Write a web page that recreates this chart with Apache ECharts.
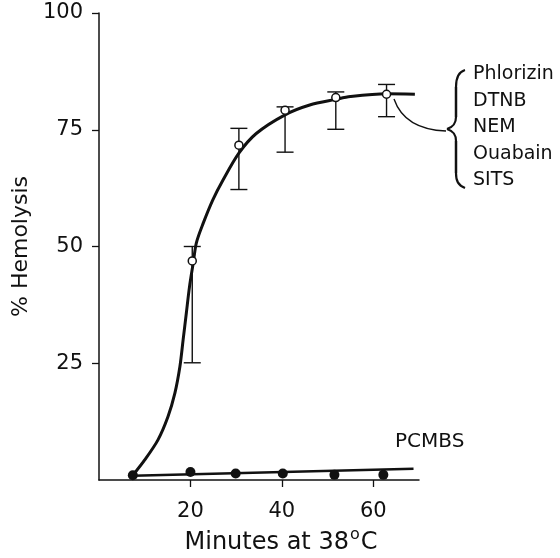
<!DOCTYPE html>
<html>
<head>
<meta charset="utf-8">
<script src="https://cdn.jsdelivr.net/npm/echarts@6/dist/echarts.min.js"></script>
<style>
html,body{margin:0;padding:0;background:#fff;}
#chart{width:560px;height:558px;}
</style>
</head>
<body>
<div id="chart"></div>
<script>
// Fitted curve (inhibitor-treated cells)
const curveX = [7.4, 10.0, 12.9, 15.1, 16.6, 17.7, 18.4, 19.1, 19.8, 20.6, 21.3, 22.8, 24.9, 27.1, 30.6, 34.4, 40.7, 46.1, 51.8, 55.0, 62.9, 69.1];
const curveY = [1.0, 4.3, 8.6, 13.6, 18.6, 24.3, 30.0, 35.7, 41.4, 46.4, 50.8, 55.0, 60.0, 64.2, 70.0, 74.2, 78.2, 80.3, 81.5, 82.1, 82.7, 82.6];
// Open circles with error bars
const openX = [20.4, 30.6, 40.7, 51.8, 62.9];
const openY = [46.9, 71.7, 79.2, 81.9, 82.6];
const errHigh = [50.0, 75.3, 79.9, 83.1, 84.7];
const errLow = [25.1, 62.2, 70.2, 75.1, 77.8];
// PCMBS filled points and line
const pcmbsX = [7.4, 20.0, 29.9, 40.2, 51.5, 62.2];
const pcmbsY = [1.0, 1.7, 1.4, 1.4, 1.1, 1.1];
const pcmbsLineX = [7.4, 68.8];
const pcmbsLineY = [0.9, 2.4];
// Ticks and labels
const xTicks = [20, 40, 60];
const yTicks = [25, 50, 75, 100];
const inhibitorLabels = ['Phlorizin', 'DTNB', 'NEM', 'Ouabain', 'SITS'];
const pcmbsLabel = 'PCMBS';

const FONT = 'DejaVu Sans';
const zip = (a, b) => a.map((v, i) => [v, b[i]]);

const chart = echarts.init(document.getElementById('chart'), null, {renderer: 'canvas'});

const ink = {stroke: '#111', fill: null};
const bz = (x1, y1, cpx1, cpy1, cpx2, cpy2, x2, y2, lw) => ({
  type: 'bezierCurve', z: 10,
  shape: {x1, y1, cpx1, cpy1, cpx2, cpy2, x2, y2},
  style: Object.assign({lineWidth: lw}, ink)
});
const ln = (x1, y1, x2, y2, lw) => ({
  type: 'line', z: 10, shape: {x1, y1, x2, y2}, style: Object.assign({lineWidth: lw}, ink)
});

const option = {
  backgroundColor: '#fff',
  animation: false,
  grid: {left: 99, right: 141, top: 13, bottom: 78, containLabel: false, outerBoundsMode: 'none'},
  xAxis: {
    type: 'value', min: 0, max: 70,
    name: '{m|Minutes at 38}{sup|o}{m|C}',
    nameLocation: 'middle', nameGap: 45,
    nameTextStyle: {
      fontFamily: FONT, fontSize: 24, color: '#111', padding: [0, 0, 0, 44],
      rich: {
        m: {fontFamily: FONT, fontSize: 24, color: '#111', lineHeight: 30},
        sup: {fontFamily: FONT, fontSize: 16, color: '#111', lineHeight: 14, padding: [0, 1, 16, 1]}
      }
    },
    axisLine: {show: true, onZero: false, lineStyle: {color: '#111', width: 1.5}},
    axisTick: {show: true, inside: false, length: 7, customValues: xTicks, lineStyle: {color: '#111', width: 1.3}},
    axisLabel: {show: true, customValues: xTicks, margin: 21, fontFamily: FONT, fontSize: 21, color: '#111'},
    splitLine: {show: false}
  },
  yAxis: {
    type: 'value', min: 0, max: 100,
    name: '% Hemolysis',
    nameLocation: 'middle', nameGap: 58, nameRotate: 90,
    nameTextStyle: {fontFamily: FONT, fontSize: 22, color: '#111'},
    axisLine: {show: true, onZero: false, lineStyle: {color: '#111', width: 1.5}},
    axisTick: {show: true, inside: false, length: 7, customValues: yTicks, lineStyle: {color: '#111', width: 1.3}},
    axisLabel: {show: true, customValues: yTicks, margin: 16, fontFamily: FONT, fontSize: 21, color: '#111'},
    splitLine: {show: false}
  },
  series: [
    {
      type: 'line', data: zip(curveX, curveY), smooth: 0.3, symbol: 'none',
      lineStyle: {color: '#111', width: 3}, z: 2
    },
    {
      type: 'line', data: zip(pcmbsLineX, pcmbsLineY), symbol: 'none',
      lineStyle: {color: '#111', width: 2.5}, z: 2
    },
    {
      type: 'custom', z: 3,
      data: openX.map((x, i) => [x, errLow[i], errHigh[i]]),
      renderItem: function (params, api) {
        const lo = api.coord([api.value(0), api.value(1)]);
        const hi = api.coord([api.value(0), api.value(2)]);
        const w = 8.5;
        const st = {stroke: '#111', lineWidth: 1.4, fill: null};
        return {
          type: 'group',
          children: [
            {type: 'line', shape: {x1: lo[0], y1: lo[1], x2: hi[0], y2: hi[1]}, style: st},
            {type: 'line', shape: {x1: lo[0] - w, y1: lo[1], x2: lo[0] + w, y2: lo[1]}, style: st},
            {type: 'line', shape: {x1: hi[0] - w, y1: hi[1], x2: hi[0] + w, y2: hi[1]}, style: st}
          ]
        };
      }
    },
    {
      type: 'scatter', data: zip(openX, openY), symbol: 'circle', symbolSize: 8, z: 4,
      itemStyle: {color: '#fff', borderColor: '#111', borderWidth: 1.5, opacity: 1}
    },
    {
      type: 'scatter', data: zip(pcmbsX, pcmbsY), symbol: 'circle', symbolSize: 10, z: 4,
      itemStyle: {color: '#111', opacity: 1}
    }
  ],
  graphic: [
    // connector from last point to the brace
    bz(394, 99, 401, 119, 418, 130, 446, 131, 1.4),
    // brace
    bz(465, 70, 458, 72, 456, 78, 456, 87, 2.2),
    ln(456, 87, 456, 117, 2.5),
    bz(456, 117, 456, 124, 453, 127, 447, 129, 2.2),
    bz(447, 129, 453, 131, 456, 134, 456, 141, 2.2),
    ln(456, 141, 456, 173, 2.5),
    bz(456, 173, 456, 181, 458, 185, 465, 188, 2.2),
    {
      type: 'text', left: 473, top: 61, z: 10,
      style: {text: inhibitorLabels.join('\n'), fontFamily: FONT, fontSize: 19, lineHeight: 26.5, fill: '#111'}
    },
    {
      type: 'text', left: 395, top: 432, z: 10,
      style: {text: pcmbsLabel, fontFamily: FONT, fontSize: 20, fill: '#111'}
    }
  ]
};
chart.setOption(option);
</script>
</body>
</html>
